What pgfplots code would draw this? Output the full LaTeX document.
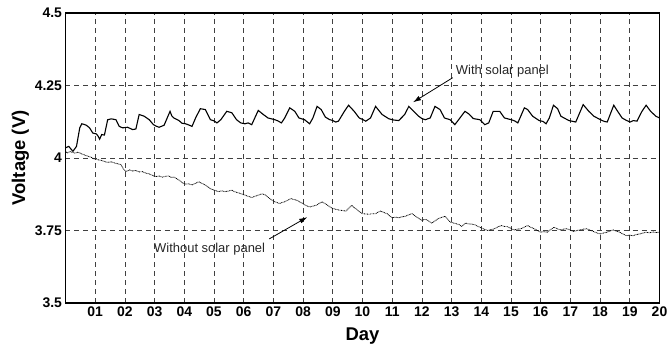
\documentclass[border=0pt]{standalone}
\usepackage{pgfplots}
\pgfplotsset{compat=1.18}
\usepackage{fontspec}
\setmainfont{Liberation Sans}
\usetikzlibrary{arrows.meta}
\pgfplotstableread{
x y
0 4.035
0.11 4.040
0.25 4.023
0.37 4.040
0.48 4.104
0.55 4.118
0.62 4.116
0.70 4.113
0.81 4.104
0.92 4.086
1.04 4.083
1.10 4.075
1.15 4.065
1.22 4.081
1.31 4.079
1.42 4.132
1.54 4.135
1.70 4.132
1.81 4.109
1.92 4.104
2.09 4.106
2.26 4.098
2.37 4.100
2.48 4.150
2.65 4.144
2.82 4.132
2.96 4.115
3.05 4.110
3.15 4.106
3.25 4.110
3.32 4.113
3.52 4.161
3.58 4.145
3.65 4.138
3.82 4.129
3.92 4.120
4.04 4.118
4.15 4.114
4.26 4.109
4.38 4.138
4.54 4.170
4.71 4.167
4.88 4.132
5.00 4.128
5.10 4.121
5.23 4.132
5.43 4.161
5.60 4.156
5.76 4.132
5.90 4.121
6.04 4.118
6.15 4.121
6.27 4.115
6.49 4.164
6.66 4.150
6.82 4.138
7.05 4.132
7.15 4.128
7.27 4.121
7.38 4.138
7.55 4.173
7.72 4.161
7.86 4.138
8.05 4.132
8.22 4.118
8.33 4.138
8.47 4.178
8.61 4.167
8.75 4.141
8.88 4.133
9.00 4.129
9.10 4.124
9.19 4.127
9.39 4.161
9.53 4.182
9.72 4.161
9.89 4.138
10.00 4.133
10.11 4.127
10.27 4.138
10.44 4.178
10.66 4.150
10.89 4.135
11.05 4.131
11.22 4.129
11.42 4.150
11.56 4.178
11.72 4.161
11.89 4.144
12.00 4.136
12.11 4.132
12.28 4.138
12.44 4.178
12.61 4.167
12.76 4.138
12.95 4.132
13.11 4.115
13.28 4.138
13.45 4.161
13.58 4.152
13.73 4.136
13.95 4.132
14.12 4.115
14.25 4.121
14.40 4.161
14.62 4.161
14.78 4.138
15.01 4.132
15.12 4.128
15.23 4.121
15.45 4.173
15.56 4.167
15.73 4.144
15.95 4.129
16.08 4.126
16.18 4.118
16.29 4.138
16.43 4.182
16.57 4.170
16.68 4.144
16.95 4.129
17.05 4.127
17.18 4.124
17.43 4.184
17.62 4.161
17.79 4.144
18.07 4.129
18.15 4.126
18.24 4.124
18.46 4.182
18.59 4.161
18.74 4.138
18.88 4.130
19.01 4.124
19.12 4.129
19.24 4.127
19.41 4.161
19.55 4.182
19.70 4.161
19.88 4.144
20 4.138
}\withsolar
\pgfplotstableread{
x y
0 4.025
0.05 4.017
0.15 4.022
0.31 4.017
0.42 4.020
0.53 4.015
0.65 4.010
0.76 4.006
0.87 4.002
0.98 3.996
1.09 3.994
1.20 3.992
1.31 3.988
1.42 3.985
1.53 3.987
1.65 3.983
1.76 3.980
1.87 3.977
1.95 3.962
2.04 3.953
2.15 3.959
2.26 3.955
2.37 3.957
2.48 3.952
2.59 3.953
2.70 3.948
2.82 3.945
2.93 3.940
3.04 3.936
3.15 3.938
3.26 3.934
3.37 3.937
3.48 3.938
3.56 3.933
3.65 3.934
3.74 3.929
3.82 3.924
3.93 3.915
4.04 3.910
4.15 3.911
4.26 3.907
4.38 3.913
4.49 3.918
4.60 3.912
4.71 3.907
4.82 3.898
4.93 3.892
5.04 3.888
5.15 3.884
5.26 3.887
5.37 3.884
5.48 3.886
5.60 3.889
5.71 3.883
5.82 3.880
5.93 3.876
6.04 3.872
6.15 3.868
6.27 3.864
6.38 3.868
6.49 3.872
6.60 3.876
6.71 3.874
6.80 3.866
6.88 3.860
6.96 3.854
7.05 3.849
7.13 3.846
7.21 3.843
7.30 3.847
7.38 3.849
7.49 3.855
7.60 3.860
7.68 3.857
7.77 3.855
7.88 3.849
7.99 3.843
8.10 3.836
8.22 3.831
8.33 3.834
8.44 3.837
8.54 3.843
8.64 3.849
8.73 3.843
8.83 3.837
8.92 3.830
9.00 3.826
9.11 3.823
9.22 3.820
9.33 3.819
9.44 3.817
9.54 3.827
9.64 3.837
9.70 3.830
9.77 3.826
9.88 3.816
10.00 3.808
10.11 3.807
10.22 3.806
10.33 3.808
10.44 3.808
10.52 3.813
10.61 3.817
10.72 3.812
10.83 3.808
10.92 3.800
11.00 3.794
11.11 3.796
11.22 3.794
11.33 3.797
11.44 3.799
11.55 3.804
11.67 3.808
11.75 3.802
11.83 3.796
11.92 3.790
12.00 3.785
12.08 3.788
12.17 3.787
12.25 3.781
12.33 3.775
12.44 3.783
12.55 3.791
12.66 3.795
12.78 3.799
12.87 3.789
12.95 3.779
13.06 3.776
13.17 3.773
13.26 3.770
13.34 3.764
13.47 3.776
13.55 3.773
13.66 3.772
13.78 3.770
13.89 3.764
14.00 3.759
14.11 3.754
14.22 3.750
14.33 3.753
14.44 3.756
14.55 3.762
14.67 3.767
14.78 3.764
14.89 3.763
15.00 3.757
15.11 3.752
15.22 3.755
15.34 3.756
15.45 3.762
15.56 3.767
15.67 3.761
15.78 3.756
15.89 3.750
16.00 3.744
16.11 3.746
16.22 3.744
16.33 3.753
16.45 3.761
16.56 3.756
16.67 3.752
16.78 3.755
16.89 3.756
17.00 3.751
17.11 3.747
17.22 3.750
17.33 3.752
17.45 3.755
17.56 3.756
17.66 3.751
17.77 3.747
17.88 3.742
18.00 3.738
18.11 3.741
18.22 3.744
18.33 3.748
18.44 3.752
18.55 3.748
18.66 3.744
18.77 3.738
18.89 3.732
19.00 3.734
19.11 3.732
19.22 3.736
19.33 3.738
19.44 3.741
19.55 3.744
19.66 3.742
19.78 3.745
19.89 3.743
20 3.744
}\withoutsolar
\begin{document}
\begin{tikzpicture}
\path[use as bounding box] (-65.5bp,-42bp) rectangle (602.5bp,303bp);
\begin{axis}[
  at={(0,0)}, anchor=south west,
  width=594bp, height=290bp, scale only axis,
  xmin=0, xmax=20, ymin=3.5, ymax=4.5,
  xtick={1,2,...,20},
  xticklabels={01,02,03,04,05,06,07,08,09,10,11,12,13,14,15,16,17,18,19,20},
  ytick={3.5,3.75,4,4.25,4.5},
  yticklabels={3.5,3.75,4,4.25,4.5},
  grid=major,
  grid style={black!75, line width=0.7bp, dash pattern=on 5bp off 4bp},
  axis line style={line width=1.3bp},
  major tick length=0pt,
  tick label style={font=\fontsize{14}{14}\selectfont\bfseries},
  xlabel={Day}, ylabel={Voltage (V)},
  label style={font=\fontsize{18.5}{18.5}\selectfont\bfseries},
  xlabel style={at={(axis description cs:0.5,-0.114)}, anchor=center},
  ylabel style={at={(axis description cs:-0.0758,0.5)}, anchor=center},
]
\addplot[black, line width=0.8bp, dash pattern=on 0.8bp off 0.7bp] table[x=x,y=y] {\withoutsolar};
\addplot[black, line width=1.1bp] table[x=x,y=y] {\withsolar};
\draw[black, line width=0.8bp, -{Latex[length=8bp,width=5bp]}] (axis cs:13.04,4.277) -- (axis cs:11.70,4.192);
\draw[black, line width=0.8bp, -{Latex[length=8bp,width=5bp]}] (axis cs:6.86,3.721) -- (axis cs:8.14,3.796);
\node[anchor=base west, inner sep=0pt, text=black!85, font=\fontsize{13}{13}\selectfont] at (axis cs:13.14,4.288) {With solar panel};
\node[anchor=base west, inner sep=0pt, text=black!85, font=\fontsize{13}{13}\selectfont] at (axis cs:2.98,3.674) {Without solar panel};
\end{axis}
\end{tikzpicture}
\end{document}
